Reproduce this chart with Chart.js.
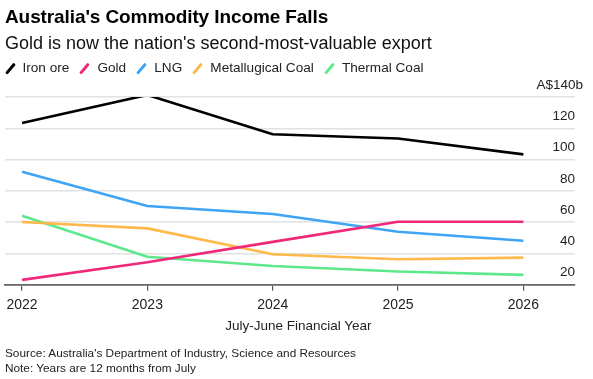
<!DOCTYPE html>
<html>
<head>
<meta charset="utf-8">
<script src="https://cdn.jsdelivr.net/npm/chart.js@4/dist/chart.umd.min.js"></script>
<style>
  html, body { margin: 0; padding: 0; background: #fff; }
  #wrap { position: relative; width: 593px; height: 379px; overflow: hidden; font-family: "Liberation Sans", Arial, sans-serif; color: #000; }
  #c { position: absolute; left: 0; top: 0; }
  .t { position: absolute; white-space: nowrap; line-height: 1; }
  #title { left: 5px; top: 7.4px; font-size: 19px; font-weight: bold; letter-spacing: -0.1px; }
  #subtitle { left: 5px; top: 33.5px; font-size: 18px; color: #111; }
  #legend { left: 5px; top: 61px; font-size: 13.6px; color: #222; display: flex; align-items: center; }
  .li { display: flex; align-items: center; margin-right: 10.6px; }
  .box { position: relative; display: inline-block; width: 17.5px; height: 14px; }
  .sw { position: absolute; left: 3.5px; top: 0.5px; width: 2.6px; height: 13px; transform: rotate(40deg); border-radius: 1px; }
  #xtitle { left: 298.3px; top: 319px; font-size: 13.5px; transform: translateX(-50%); color: #222; }
  #source { left: 5px; top: 348px; font-size: 11.8px; color: #222; }
  #note { left: 5px; top: 363px; font-size: 11.8px; color: #222; }
</style>
</head>
<body>
<div id="wrap">
  <canvas id="c" width="593" height="379"></canvas>
  <div class="t" id="title">Australia's Commodity Income Falls</div>
  <div class="t" id="subtitle">Gold is now the nation's second-most-valuable export</div>
  <div class="t" id="legend"></div>
  <div class="t" id="xtitle">July-June Financial Year</div>
  <div class="t" id="source">Source: Australia's Department of Industry, Science and Resources</div>
  <div class="t" id="note">Note: Years are 12 months from July</div>
</div>
<script>
// ---- data (A$ billions) ----
const years = [2022, 2023, 2024, 2025, 2026];
const ironOre = [123.4, 141.3, 116.2, 113.5, 103.3];
const gold = [23.1, 34.4, 47.4, 60.2, 60.2];
const lng = [92.2, 70.3, 65.2, 53.9, 48.1];
const metCoal = [60.1, 56.0, 39.5, 36.3, 37.3];
const thermalCoal = [64.1, 37.9, 32.0, 28.4, 26.3];
const yTicks = [20, 40, 60, 80, 100, 120, 140];
const seriesNames = ['Iron ore', 'Gold', 'LNG', 'Metallugical Coal', 'Thermal Coal'];
const seriesColors = ['#000000', '#f0287c', '#3fa4f4', '#ffb84a', '#5ee88c'];
const seriesData = [ironOre, gold, lng, metCoal, thermalCoal];

// legend
const leg = document.getElementById('legend');
seriesNames.forEach((n, i) => {
  const d = document.createElement('span');
  d.className = 'li';
  const b = document.createElement('span');
  b.className = 'box';
  const s = document.createElement('span');
  s.className = 'sw';
  s.style.background = seriesColors[i];
  b.appendChild(s);
  d.appendChild(b);
  d.appendChild(document.createTextNode(n));
  leg.appendChild(d);
});

const datasets = seriesNames.map((n, i) => ({
  label: n,
  data: years.map((y, j) => ({ x: y, y: seriesData[i][j] })),
  borderColor: seriesColors[i],
  backgroundColor: seriesColors[i],
  borderWidth: 2.6,
  pointRadius: 0,
  pointHoverRadius: 0,
  tension: 0,
  borderJoinStyle: 'round',
  fill: false
}));

const topLabel = {
  id: 'topLabel',
  afterDraw(chart) {
    const ys = chart.scales.y;
    const ctx = chart.ctx;
    ctx.save();
    ctx.font = '13.5px "Liberation Sans", Arial, sans-serif';
    ctx.fillStyle = '#222';
    ctx.textAlign = 'right';
    ctx.textBaseline = 'middle';
    ctx.fillText('A$140b', chart.chartArea.right + 8, ys.getPixelForValue(140) - 11.5);
    ctx.restore();
  }
};

new Chart(document.getElementById('c'), {
  type: 'line',
  data: { datasets },
  plugins: [topLabel],
  options: {
    responsive: false,
    animation: false,
    devicePixelRatio: 1,
    layout: { padding: { left: 5, right: 18, top: 97, bottom: 54.3 } },
    plugins: { legend: { display: false }, tooltip: { enabled: false } },
    scales: {
      x: {
        type: 'linear',
        position: 'bottom',
        min: 2021.864,
        max: 2026.412,
        afterFit(s) { s.height = 40; },
        afterBuildTicks(s) { s.ticks = years.map(v => ({ value: v })); },
        grid: { drawOnChartArea: false, drawTicks: true, tickLength: 6, tickColor: '#555', lineWidth: 1.2 },
        border: { display: true, color: '#666', width: 1.8 },
        ticks: {
          autoSkip: false,
          padding: 6,
          color: '#222',
          font: { family: '"Liberation Sans", Arial, sans-serif', size: 14 },
          callback: v => String(v),
          maxRotation: 0
        }
      },
      y: {
        position: 'right',
        min: 20,
        max: 140,
        afterFit(s) { s.width = 0; },
        afterBuildTicks(s) { s.ticks = yTicks.map(v => ({ value: v })); },
        grid: { color: '#e2e2e2', lineWidth: 1.5, drawTicks: false },
        border: { display: false },
        ticks: {
          mirror: true,
          padding: 0,
          labelOffset: -12,
          color: '#222',
          font: { family: '"Liberation Sans", Arial, sans-serif', size: 13.5 },
          callback: v => (v === 140 ? '' : String(v))
        }
      }
    }
  }
});
</script>
</body>
</html>
